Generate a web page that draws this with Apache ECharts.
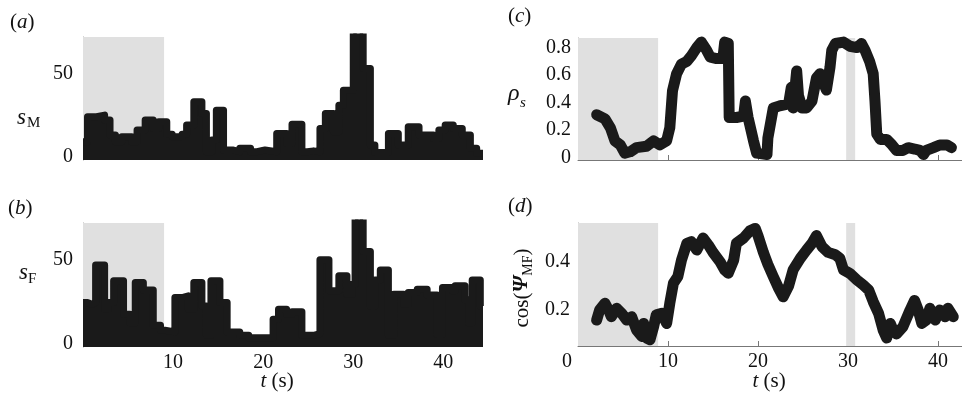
<!DOCTYPE html>
<html>
<head>
<meta charset="utf-8">
<script src="https://cdn.jsdelivr.net/npm/echarts@6/dist/echarts.min.js"></script>
<style>html,body{margin:0;padding:0;background:#fff}#c{width:962px;height:401px}</style>
</head>
<body>
<div id="c"></div>
<script>
// (a) s_M : step segments (start time, value)
const tA = [0,0.5,1.5,2.4,3.0,3.6,4.3,5.4,6.0,6.9,7.8,8.4,9.3,9.9,11.0,11.5,12.3,13.2,13.7,14.3,14.8,15.6,16.7,17.4,18.6,19.3,20.2,21.5,22.6,23.2,24.3,24.9,25.6,26.3,26.9,27.8,28.4,28.9,30.0,31.1,31.9,32.4,33.9,35.0,36.1,37.3,38.9,39.5,40.2,41.1,42.1,43.0,43.7,44.4];
const sM = [9,24,25,22,13,9,12,9,16,22,17,21,13.5,12,13.5,19,33,26,3,10,28,4,3,5,3,4,3,14,8,19.5,3,3.5,3,17,26,15,31,40,80,53,7,2.5,14,7,18,13,11,16,19,17,13,5,2,2];
// (b) s_F
const tB = [0,0.5,1.0,1.4,2.4,2.8,3.4,4.5,5.2,5.8,6.7,7.8,8.6,9.1,10.2,11.0,11.7,12.3,13.2,13.7,14.2,15.2,16.0,17.4,18.4,21.1,21.7,22.6,23.2,24.3,25.6,26.3,27.3,28.4,29.3,29.9,30.2,31.1,31.9,32.4,33.0,33.9,34.5,35.6,36.1,37.1,38.2,39.3,39.9,41.0,41.3,42.4,42.8,43.2,44.1,44.4];
const sF = [24.5,23.5,24.5,47,20.5,24.5,37.5,17.5,12.5,36.5,32,11,8,7,27.5,28.5,20.5,36.5,22.5,5,37.5,24.5,7,5,3.5,14.5,20.5,17.5,19,5,6,50,31.5,40.5,29.5,35.5,80,55,22.5,38,44,5,29.5,23.5,30.5,32.5,29,5.5,33.5,31.5,34.5,26,12.5,38,22.5,22.5];
// (c) rho_s
const tC = [2.07,3.0,3.6,4.1,4.7,5.2,5.8,6.5,7.6,8.4,9.1,9.85,10.2,10.5,10.96,11.5,12.1,12.6,13.2,13.7,14.3,14.7,15.4,16.1,16.3,16.7,16.8,17.6,18.4,18.6,18.9,19.5,19.85,21.0,21.1,21.7,22.4,23.4,23.7,23.9,24.3,24.5,24.9,25.4,26.0,26.5,26.9,27.3,27.6,28.0,28.2,28.6,29.5,30.2,31.0,31.5,31.9,32.4,32.8,33.0,33.2,33.6,34.3,34.9,35.4,36.1,36.7,37.4,38.0,38.4,38.7,39.5,40.2,41.0,41.5];
const rhoS = [0.31,0.28,0.215,0.12,0.09,0.03,0.04,0.07,0.08,0.12,0.09,0.12,0.215,0.485,0.61,0.68,0.70,0.74,0.80,0.84,0.78,0.73,0.72,0.72,0.84,0.83,0.29,0.29,0.30,0.41,0.29,0.12,0.03,0.02,0.14,0.36,0.375,0.39,0.51,0.36,0.63,0.45,0.36,0.36,0.41,0.58,0.61,0.54,0.49,0.655,0.78,0.83,0.84,0.81,0.80,0.83,0.78,0.70,0.61,0.41,0.17,0.13,0.13,0.09,0.05,0.05,0.07,0.06,0.05,0.02,0.05,0.07,0.09,0.09,0.07];
// (d) cos(Psi_MF)
const tD = [2.07,2.4,3.0,3.4,3.7,4.3,4.85,5.4,5.96,6.5,7.1,7.3,7.6,8.0,8.4,8.7,9.3,9.85,10.2,10.6,11.1,11.5,12.1,12.6,13.2,13.9,14.5,15.0,15.8,16.3,16.7,17.3,17.6,18.4,19.1,19.7,20.0,20.6,21.1,21.7,22.3,22.8,23.4,23.9,24.7,25.4,26.0,26.5,27.1,27.8,28.6,29.1,29.5,30.2,31.0,31.7,32.3,32.8,33.4,33.9,34.3,34.7,35.0,35.4,36.1,36.9,37.4,37.8,38.2,38.7,39.1,39.7,40.2,40.8,41.1,41.7];
const cosPsi = [0.158,0.2,0.228,0.2,0.172,0.207,0.186,0.158,0.172,0.117,0.09,0.144,0.083,0.076,0.13,0.18,0.186,0.144,0.228,0.311,0.34,0.408,0.478,0.485,0.45,0.5,0.47,0.44,0.40,0.367,0.353,0.408,0.478,0.5,0.53,0.54,0.51,0.44,0.39,0.339,0.29,0.255,0.30,0.367,0.415,0.45,0.478,0.51,0.465,0.44,0.43,0.415,0.367,0.353,0.325,0.304,0.283,0.235,0.186,0.117,0.083,0.144,0.117,0.1,0.13,0.2,0.24,0.2,0.144,0.158,0.207,0.158,0.2,0.172,0.207,0.172];
// shaded intervals
const shadeAB = [[0, 9]];
const shadeCD = [[0, 8.9], [29.8, 30.8]];
// tick labels
const ticksS = [0, 50];
const ticksRho = [0, 0.2, 0.4, 0.6, 0.8];
const ticksCos = [0.2, 0.4];
const ticksTab = [10, 20, 30, 40];
const ticksTcd = [0, 10, 20, 30, 40];

const FONT = "'Liberation Serif', 'Times New Roman', serif";
const INK = '#1a1a1a';
const TXT = '#111';
const GRAY = '#e0e0e0';
const zip = (a, b) => a.map((v, i) => [v, b[i]]);

function yAxis(gi, min, max, ticks, margin) {
  return {
    type: 'value', gridIndex: gi, min: min, max: max,
    axisLine: {show: true, lineStyle: {color: '#999', width: 1}},
    axisTick: {show: false},
    splitLine: {show: false},
    axisLabel: {customValues: ticks, margin: margin, color: TXT, fontFamily: FONT, fontSize: 20,
      formatter: v => String(v)}
  };
}
function xAxis(gi, max, ticks, showLabels, showLine) {
  return {
    type: 'value', gridIndex: gi, min: 0, max: max,
    axisLine: {show: showLine, onZero: false, lineStyle: {color: '#777', width: 1}},
    axisTick: {show: showLine, inside: true, length: 5, customValues: ticks, lineStyle: {color: '#777'}},
    splitLine: {show: false},
    axisLabel: {show: showLabels, customValues: ticks, margin: 6, color: TXT, fontFamily: FONT, fontSize: 20,
      formatter: v => v === 0 ? '{z|0}' : '{d|' + v + '}',
      rich: {z: {fontFamily: FONT, fontSize: 20, color: TXT, padding: [0, 22, 0, 0]},
             d: {fontFamily: FONT, fontSize: 20, color: TXT}}}
  };
}
function shadeSeries(idx, ranges) {
  return {
    type: 'line', xAxisIndex: idx, yAxisIndex: idx, data: [], z: 1, silent: true,
    markArea: {silent: true, itemStyle: {color: GRAY, opacity: 1},
      data: ranges.map(r => [{xAxis: r[0]}, {xAxis: r[1]}])}
  };
}
function stepSeries(idx, data) {
  return {
    type: 'line', xAxisIndex: idx, yAxisIndex: idx, step: 'end', data: data, z: 3,
    symbol: 'none', clip: true,
    lineStyle: {color: INK, width: 7, join: 'round', cap: 'butt'},
    areaStyle: {color: INK, opacity: 1, origin: 'start'}
  };
}
function thickLine(idx, data) {
  return {
    type: 'line', xAxisIndex: idx, yAxisIndex: idx, data: data, z: 3,
    symbol: 'none', clip: false,
    lineStyle: {color: INK, width: 11, join: 'round', cap: 'round'}
  };
}

function txt(x, y, text, size, italic) {
  return {type: 'text', x: x, y: y, silent: true,
    style: {text: text, fontFamily: FONT, fontSize: size, fontStyle: italic ? 'italic' : 'normal',
      fill: TXT, verticalAlign: 'middle', align: 'left'}};
}
function panelLabel(x, y, letter) {
  return {type: 'text', x: x, y: y, silent: true,
    style: {text: '{n|(}{i|' + letter + '}{n|)}', verticalAlign: 'middle', align: 'left',
      rich: {n: {fontFamily: FONT, fontSize: 21, fill: TXT},
             i: {fontFamily: FONT, fontSize: 21, fontStyle: 'italic', fill: TXT}}}};
}
function tLabel(x, y) {
  return {type: 'text', x: x, y: y, silent: true,
    style: {text: '{i|t}{n| (s)}', verticalAlign: 'middle', align: 'center',
      rich: {n: {fontFamily: FONT, fontSize: 21, fill: TXT},
             i: {fontFamily: FONT, fontSize: 21, fontStyle: 'italic', fill: TXT}}}};
}

const chart = echarts.init(document.getElementById('c'), null, {renderer: 'canvas'});
chart.setOption({
  animation: false,
  backgroundColor: '#fff',
  grid: [
    {left: 83, width: 400, top: 37, height: 123},
    {left: 83, width: 400, top: 223, height: 124},
    {left: 578, width: 384, top: 38, height: 122},
    {left: 578, width: 384, top: 223, height: 123}
  ],
  xAxis: [
    xAxis(0, 44.4, ticksTab, false, false),
    xAxis(1, 44.4, ticksTab, true, false),
    xAxis(2, 42.67, ticksTab, false, true),
    xAxis(3, 42.67, ticksTcd, true, true)
  ],
  yAxis: [
    yAxis(0, -2, 72, ticksS, 10),
    yAxis(1, -2, 72, ticksS, 10),
    yAxis(2, -0.02, 0.87, ticksRho, 7),
    yAxis(3, 0.05, 0.5625, ticksCos, 8)
  ],
  series: [
    shadeSeries(0, shadeAB), shadeSeries(1, shadeAB), shadeSeries(2, shadeCD), shadeSeries(3, shadeCD),
    stepSeries(0, zip(tA, sM)),
    stepSeries(1, zip(tB, sF)),
    thickLine(2, zip(tC, rhoS)),
    thickLine(3, zip(tD, cosPsi))
  ],
  graphic: [
    panelLabel(10, 22, 'a'),
    panelLabel(8, 208, 'b'),
    panelLabel(508, 16, 'c'),
    panelLabel(508, 206, 'd'),
    txt(17, 118, 's', 23, true),
    txt(27, 123, 'M', 15, false),
    txt(19, 273, 's', 23, true),
    txt(28, 279, 'F', 15, false),
    txt(508, 94, 'ρ', 24, true),
    txt(520, 103, 's', 15, true),
    {type: 'text', x: 522, y: 288, rotation: Math.PI / 2, silent: true,
      style: {text: '{a|cos(}{p|Ψ}{s|MF}{a|)}', align: 'center', verticalAlign: 'middle',
        rich: {a: {fontFamily: FONT, fontSize: 21, fill: TXT, lineHeight: 26, verticalAlign: 'middle'},
               p: {fontFamily: FONT, fontSize: 21, fontStyle: 'italic', fontWeight: 'bold', fill: TXT, lineHeight: 26, verticalAlign: 'middle'},
               s: {fontFamily: FONT, fontSize: 14, fill: TXT, lineHeight: 14, verticalAlign: 'bottom'}}}},
    tLabel(277, 381),
    tLabel(769, 381)
  ]
});
</script>
</body>
</html>
